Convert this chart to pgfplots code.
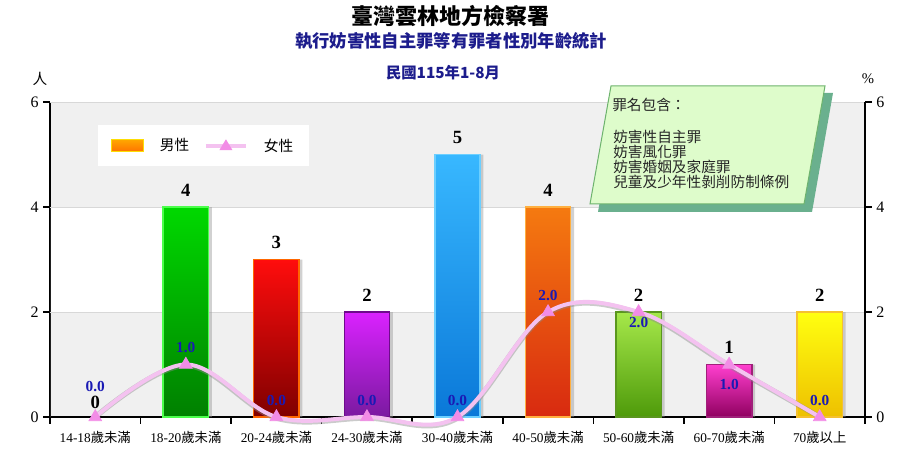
\documentclass[border=0pt]{standalone}
\usepackage{fontspec}
\setmainfont{Liberation Serif}
\newfontfamily\cjk{Noto Sans CJK TC}
\usepackage{pgfplots}
\pgfplotsset{compat=1.18}

\definecolor{titleblue}{HTML}{1C1C8C}
\definecolor{lblblue}{HTML}{1A1AB4}
\definecolor{band}{HTML}{F0F0F0}
\definecolor{gridc}{HTML}{D8D8D8}
\definecolor{femline}{HTML}{F4C2F0}
\definecolor{femmark}{HTML}{F28CE6}
\definecolor{boxfill}{HTML}{DEFCCB}
\definecolor{boxdraw}{HTML}{6DB36D}
\definecolor{boxshadow}{HTML}{6AB08E}

\pgfplotsset{
  malebar/.style={ybar, bar width=0.5, bar shift=0pt, line width=1.1pt, forget plot,
    nodes near coords, every node near coord/.append style={font=\bfseries\fontsize{14}{14}\selectfont, black, anchor=base, inner sep=0pt, yshift=8pt}},
  femlbl/.style={mark=none, draw=none, forget plot, nodes near coords,
    nodes near coords={\pgfmathprintnumber[fixed,fixed zerofill,precision=1]{\pgfplotspointmeta}},
    every node near coord/.append style={font=\bfseries\fontsize{11.5}{11.5}\selectfont, text=lblblue, anchor=center, inner sep=0pt, yshift=#1}},
}

\begin{document}
\begin{tikzpicture}
\path[use as bounding box] (0,0) rectangle (675pt,337.5pt);

\begin{axis}[
  at={(37.5pt,24.75pt)}, anchor=south west,
  width=611.25pt, height=236.25pt, scale only axis,
  clip=false,
  xmin=-0.5, xmax=8.5, ymin=0, ymax=6,
  axis background/.style={fill=band},
  axis x line*=bottom, axis y line*=left,
  axis line style={line width=1.5pt,-},
  xtick={0,...,8},
  xticklabels={14-18{\cjk 歲未滿},18-20{\cjk 歲未滿},20-24{\cjk 歲未滿},24-30{\cjk 歲未滿},30-40{\cjk 歲未滿},40-50{\cjk 歲未滿},50-60{\cjk 歲未滿},60-70{\cjk 歲未滿},70{\cjk 歲以上}},
  x tick label style={font=\fontsize{10}{10}\selectfont, yshift=-2pt},
  major x tick style={draw=none},
  minor xtick={-0.5,0.5,...,8.5},
  minor x tick style={black,line width=1.2pt},
  minor tick length=5pt,
  ytick={0,2,4,6},
  y tick style={black,line width=1.2pt},
  major tick length=5pt,
  tick align=outside,
  y tick label style={font=\fontsize{12}{12}\selectfont},
  /pgf/number format/assume math mode=true,
  legend style={at={(0.058,0.927)}, anchor=north west, draw=none, fill=white,
    font=\cjk\fontsize{11}{11}\selectfont, inner xsep=10pt, inner ysep=8pt,
    /tikz/every odd column/.append style={column sep=10pt},
    /tikz/every even column/.append style={column sep=9pt}},
  legend columns=2,
]
% white band and grid lines
\addplot[fill=white, draw=none, forget plot] coordinates {(-0.489,2) (8.489,2) (8.489,4) (-0.489,4)} \closedcycle;
\addplot[gridc, line width=0.6pt, forget plot] coordinates {(-0.5,2) (8.5,2)};
\addplot[gridc, line width=0.6pt, forget plot] coordinates {(-0.5,4) (8.5,4)};
\addplot[gridc, line width=0.6pt, forget plot] coordinates {(-0.5,6) (8.5,6)};

\addlegendimage{legend image code/.code={\draw[top color=orange!70!yellow,bottom color=orange!90!red,draw=yellow!80!orange,line width=0.8pt] (0pt,-4.5pt) rectangle (24pt,4.5pt);}}
\addlegendimage{legend image code/.code={\draw[femline,line width=3pt] (0pt,0pt) -- (30pt,0pt); \fill[femmark] (15pt,4.5pt) -- (10.5pt,-3pt) -- (19.5pt,-3pt) -- cycle;}}
\legend{男性,女性}

% bar shadows
\addplot[ybar, bar width=0.5, bar shift=2.5pt, fill=black!40, draw=none, opacity=0.45, forget plot]
  coordinates {(1,4) (2,3) (3,2) (4,5) (5,4) (6,2) (7,1) (8,2)};

% male bars
\addplot[malebar, draw=none, fill=none, every node near coord/.append style={yshift=-1.5pt}] coordinates {(0,0)};
\addplot[malebar, top color=green!85!black, bottom color=green!50!black, draw=green!70!white] coordinates {(1,4)};
\addplot[malebar, top color=red!95!white, bottom color=red!50!black, draw=orange!80!red] coordinates {(2,3)};
\addplot[malebar, top color={rgb,255:red,218;green,34;blue,255}, bottom color={rgb,255:red,122;green,26;blue,160}, draw={rgb,255:red,110;green,10;blue,140}] coordinates {(3,2)};
\addplot[malebar, top color={rgb,255:red,56;green,184;blue,255}, bottom color={rgb,255:red,10;green,120;blue,216}, draw={rgb,255:red,108;green,207;blue,255}] coordinates {(4,5)};
\addplot[malebar, top color={rgb,255:red,245;green,122;blue,16}, bottom color={rgb,255:red,216;green,42;blue,16}, draw={rgb,255:red,255;green,176;blue,64}] coordinates {(5,4)};
\addplot[malebar, top color={rgb,255:red,166;green,232;blue,74}, bottom color={rgb,255:red,78;green,154;blue,10}, draw={rgb,255:red,90;green,150;blue,30}] coordinates {(6,2)};
\addplot[malebar, top color={rgb,255:red,255;green,63;blue,207}, bottom color={rgb,255:red,144;green,0;blue,96}, draw={rgb,255:red,160;green,32;blue,122}] coordinates {(7,1)};
\addplot[malebar, top color={rgb,255:red,255;green,255;blue,16}, bottom color={rgb,255:red,238;green,192;blue,0}, draw={rgb,255:red,245;green,192;blue,48}] coordinates {(8,2)};

% female line
\addplot[smooth, tension=0.6, black!45, opacity=0.45, line width=4pt, forget plot]
  coordinates {(0,0) (1,0.98) (2,-0.02) (3,-0.02) (4,-0.02) (5,1.98) (6,1.98) (7,0.98) (8,0)};
\addplot[smooth, tension=0.6, femline, line width=3pt, mark=triangle*, mark size=5.5pt,
  mark options={fill=femmark, draw=femmark, line width=0.5pt}, forget plot]
  coordinates {(0,0) (1,1) (2,0) (3,0) (4,0) (5,2) (6,2) (7,1) (8,0)};

% female labels
\addplot[femlbl=12.5pt] coordinates {(1,1) (2,0) (3,0) (4,0) (5,2) (8,0)};
\addplot[femlbl=23pt] coordinates {(0,0)};
\addplot[femlbl=-8.25pt] coordinates {(6,2)};
\addplot[femlbl=-15pt] coordinates {(7,1)};
\end{axis}

\begin{axis}[
  at={(37.5pt,24.75pt)}, anchor=south west,
  width=611.25pt, height=236.25pt, scale only axis,
  xmin=-0.5, xmax=8.5, ymin=0, ymax=6,
  axis x line=none, axis y line*=right,
  axis line style={line width=1.5pt,-},
  ytick={0,2,4,6},
  y tick style={black,line width=1.2pt},
  major tick length=5pt, tick align=outside,
  y tick label style={font=\fontsize{12}{12}\selectfont},
  /pgf/number format/assume math mode=true,
]
\addplot[mark=none, draw=none, forget plot] coordinates {(0,0) (8,6)};
\end{axis}

\begin{scope}[x=0.75pt, y=-0.75pt, yshift=337.5pt]
\node[font=\cjk\bfseries\fontsize{16.5}{16.5}\selectfont] at (450,16) {臺灣雲林地方檢察署};
\node[font=\cjk\bfseries\fontsize{13}{13}\selectfont, text=titleblue] at (451,41) {執行妨害性自主罪等有罪者性別年齡統計};
\node[font=\cjk\bfseries\fontsize{11.5}{11.5}\selectfont, text=titleblue] at (443,73) {民國115年1-8月};
\node[font=\cjk\fontsize{11}{11}\selectfont] at (40,79) {人};
\node[font=\fontsize{11}{11}\selectfont] at (868,79) {\%};

\fill[boxshadow] (619,93) -- (833,93) -- (812,212) -- (598,212) -- cycle;
\filldraw[fill=boxfill, draw=boxdraw, line width=0.75pt] (611,86) -- (825,86) -- (804,204) -- (590,204) -- cycle;
\begin{scope}[every node/.style={font=\cjk\fontsize{11}{11}\selectfont, anchor=west, inner sep=0pt, text=black!85}]
\node at (612,105) {罪名包含：};
\node at (613,137) {妨害性自主罪};
\node at (613,152) {妨害風化罪};
\node at (613,167) {妨害婚姻及家庭罪};
\node at (613,182) {兒童及少年性剝削防制條例};
\end{scope}
\end{scope}
\end{tikzpicture}
\end{document}
